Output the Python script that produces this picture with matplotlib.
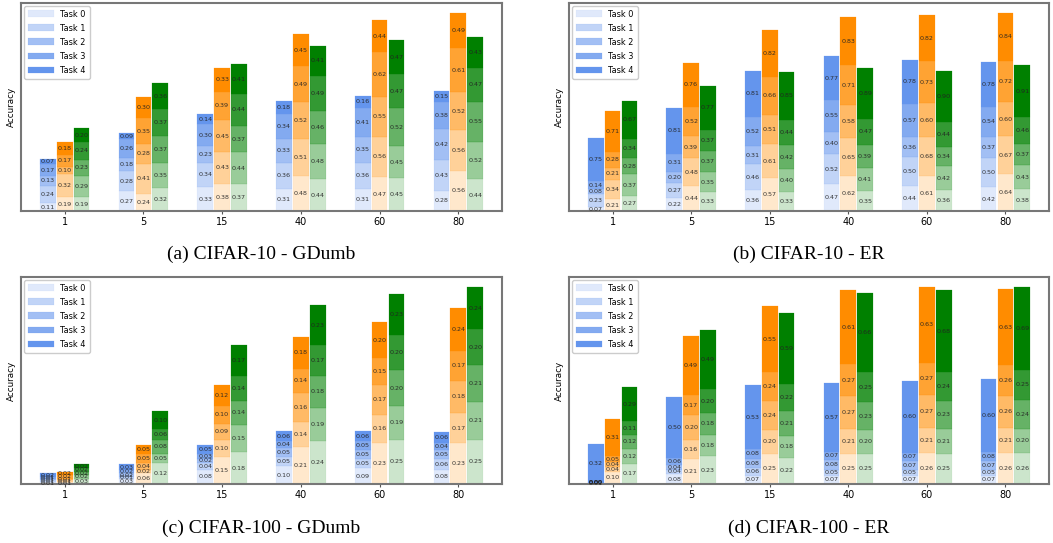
import matplotlib
matplotlib.use("Agg")
import matplotlib.pyplot as plt
import numpy as np
from matplotlib.colors import to_rgba

W, H = 1053, 543
groups = ["1", "5", "15", "40", "60", "80"]
tasks = ["Task 0", "Task 1", "Task 2", "Task 3", "Task 4"]
series_colors = ["cornflowerblue", "darkorange", "green"]
alphas = [0.2, 0.4, 0.6, 0.8, 1.0]

# Each list: per group, per task (Task 0 .. Task 4)
c10_gdumb_blue = [[0.11, 0.24, 0.13, 0.17, 0.07], [0.27, 0.28, 0.18, 0.26, 0.09],
                  [0.33, 0.34, 0.23, 0.30, 0.14], [0.31, 0.36, 0.33, 0.34, 0.18],
                  [0.31, 0.36, 0.35, 0.41, 0.16], [0.28, 0.43, 0.42, 0.38, 0.15]]
c10_gdumb_orange = [[0.19, 0.32, 0.10, 0.17, 0.18], [0.24, 0.41, 0.28, 0.35, 0.30],
                    [0.38, 0.43, 0.45, 0.39, 0.33], [0.48, 0.51, 0.52, 0.49, 0.45],
                    [0.47, 0.56, 0.55, 0.62, 0.44], [0.56, 0.56, 0.52, 0.61, 0.49]]
c10_gdumb_green = [[0.19, 0.29, 0.23, 0.24, 0.20], [0.32, 0.35, 0.37, 0.37, 0.36],
                   [0.37, 0.44, 0.37, 0.44, 0.41], [0.44, 0.48, 0.46, 0.49, 0.41],
                   [0.45, 0.45, 0.52, 0.47, 0.47], [0.44, 0.52, 0.55, 0.47, 0.43]]

c10_er_blue = [[0.07, 0.23, 0.08, 0.14, 0.75], [0.22, 0.27, 0.20, 0.31, 0.81],
               [0.36, 0.46, 0.31, 0.52, 0.81], [0.47, 0.52, 0.40, 0.55, 0.77],
               [0.44, 0.50, 0.36, 0.57, 0.78], [0.42, 0.50, 0.37, 0.54, 0.78]]
c10_er_orange = [[0.21, 0.34, 0.21, 0.28, 0.71], [0.44, 0.48, 0.39, 0.52, 0.76],
                 [0.57, 0.61, 0.51, 0.66, 0.82], [0.62, 0.65, 0.58, 0.71, 0.83],
                 [0.61, 0.68, 0.60, 0.73, 0.82], [0.64, 0.67, 0.60, 0.72, 0.84]]
c10_er_green = [[0.27, 0.37, 0.28, 0.34, 0.67], [0.33, 0.35, 0.37, 0.37, 0.77],
                [0.33, 0.40, 0.42, 0.44, 0.85], [0.35, 0.41, 0.39, 0.47, 0.89],
                [0.36, 0.42, 0.34, 0.44, 0.90], [0.38, 0.43, 0.37, 0.46, 0.91]]

c100_gdumb_blue = [[0.01, 0.01, 0.01, 0.01, 0.02], [0.03, 0.01, 0.02, 0.02, 0.03],
                   [0.08, 0.04, 0.02, 0.03, 0.05], [0.10, 0.05, 0.05, 0.04, 0.06],
                   [0.09, 0.05, 0.05, 0.05, 0.06], [0.08, 0.06, 0.05, 0.04, 0.06]]
c100_gdumb_orange = [[0.01, 0.01, 0.01, 0.02, 0.02], [0.06, 0.02, 0.04, 0.05, 0.05],
                     [0.15, 0.10, 0.09, 0.10, 0.12], [0.21, 0.14, 0.16, 0.14, 0.18],
                     [0.23, 0.16, 0.17, 0.15, 0.20], [0.23, 0.17, 0.18, 0.17, 0.24]]
c100_gdumb_green = [[0.03, 0.02, 0.02, 0.02, 0.02], [0.12, 0.05, 0.08, 0.06, 0.10],
                    [0.18, 0.15, 0.14, 0.14, 0.17], [0.24, 0.19, 0.18, 0.17, 0.23],
                    [0.25, 0.19, 0.20, 0.20, 0.23], [0.25, 0.21, 0.21, 0.20, 0.24]]

c100_er_blue = [[0.01, 0.00, 0.00, 0.00, 0.32], [0.08, 0.04, 0.04, 0.06, 0.50],
                [0.07, 0.06, 0.08, 0.08, 0.53], [0.07, 0.05, 0.08, 0.07, 0.57],
                [0.07, 0.05, 0.07, 0.07, 0.60], [0.07, 0.05, 0.07, 0.08, 0.60]]
c100_er_orange = [[0.10, 0.04, 0.04, 0.05, 0.31], [0.21, 0.16, 0.20, 0.17, 0.49],
                  [0.25, 0.20, 0.24, 0.24, 0.55], [0.25, 0.21, 0.27, 0.27, 0.61],
                  [0.26, 0.21, 0.27, 0.27, 0.63], [0.26, 0.21, 0.26, 0.26, 0.63]]
c100_er_green = [[0.17, 0.12, 0.12, 0.11, 0.29], [0.23, 0.18, 0.18, 0.20, 0.49],
                 [0.22, 0.18, 0.21, 0.22, 0.59], [0.25, 0.20, 0.23, 0.25, 0.66],
                 [0.25, 0.21, 0.23, 0.24, 0.68], [0.26, 0.20, 0.24, 0.25, 0.69]]

captions = ["(a) CIFAR-10 - GDumb", "(b) CIFAR-10 - ER",
            "(c) CIFAR-100 - GDumb", "(d) CIFAR-100 - ER"]
panels = [
    (c10_gdumb_blue, c10_gdumb_orange, c10_gdumb_green),
    (c10_er_blue, c10_er_orange, c10_er_green),
    (c100_gdumb_blue, c100_gdumb_orange, c100_gdumb_green),
    (c100_er_blue, c100_er_orange, c100_er_green),
]

# pixel boxes: left, right, top, bottom
boxes = [(21, 502, 3, 211), (569, 1049, 3, 211),
         (21, 502, 277, 484), (569, 1049, 277, 484)]
caption_y = [254, 254, 528, 528]

fig = plt.figure(figsize=(W / 100, H / 100), dpi=100)

bw = 0.2
off = 0.215
x = np.arange(len(groups))

for p, (data, box) in enumerate(zip(panels, boxes)):
    l, r, t, b = box
    ax = fig.add_axes([l / W, 1 - b / H, (r - l) / W, (b - t) / H])
    for s, (series, col) in enumerate(zip(data, series_colors)):
        arr = np.array(series)
        xs = x + (s - 1) * off
        bottom = np.zeros(len(groups))
        for k in range(len(tasks)):
            fc = to_rgba(col, alphas[k])
            ec = to_rgba(col, alphas[k] * 0.5)
            ax.bar(xs, arr[:, k], bw, bottom=bottom, color=fc,
                   edgecolor=ec, linewidth=0.3,
                   label=tasks[k] if s == 0 else None)
            for xi, h, b0 in zip(xs, arr[:, k], bottom):
                ax.text(xi, b0 + h / 2, f"{h:.2f}", ha="center", va="center",
                        fontsize=4.6, color="#222222", alpha=0.9)
            bottom = bottom + arr[:, k]
    ax.set_xlim(-0.555, 5.555)
    ax.set_xticks(x)
    ax.set_xticklabels(groups, fontsize=7)
    ax.set_yticks([])
    ax.set_ylabel("Accuracy", fontsize=6.3, labelpad=4)
    ax.tick_params(axis="x", length=2.5, width=0.8, pad=1.5, color="#555555")
    for sp in ax.spines.values():
        sp.set_color("#777777")
        sp.set_linewidth(1.5)
    ax.legend(loc="upper left", fontsize=5.9, handlelength=3.2, handleheight=0.9,
              labelspacing=0.62, borderpad=0.45, framealpha=1.0,
              edgecolor="#cccccc", fancybox=True, borderaxespad=0.35)
    fig.text(((l + r) / 2) / W, 1 - caption_y[p] / H, captions[p],
             ha="center", va="center", fontsize=14, family="Liberation Serif")

fig.savefig("out.png", dpi=100)
